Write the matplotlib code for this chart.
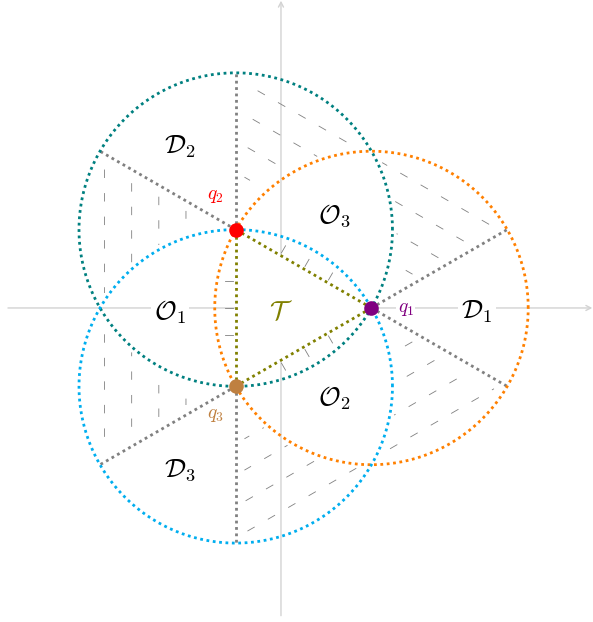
import matplotlib
matplotlib.use("Agg")
import matplotlib.pyplot as plt
import numpy as np

plt.rcParams["mathtext.fontset"] = "cm"
plt.rcParams["lines.scale_dashes"] = False

# triangle vertices q1, q2, q3 on the unit circle; each circle has radius = side
vertex_deg = [0, 120, 240]
vertex_names = ["$q_1$", "$q_2$", "$q_3$"]
vertex_colors = ["purple", "red", "#bf8040"]
circle_colors = ["#ff8000", "teal", "#00aeef"]
vertex_label_xy = [(1.38, -0.01), (-0.72, 1.24), (-0.72, -1.18)]

region_names = [r"$\mathcal{D}_1$", r"$\mathcal{D}_2$", r"$\mathcal{D}_3$",
                r"$\mathcal{O}_1$", r"$\mathcal{O}_2$", r"$\mathcal{O}_3$"]
region_xy = [(2.166, -0.044), (-1.116, 1.779), (-1.116, -1.79),
             (-1.227, -0.044), (0.586, -0.994), (0.586, 1.017)]
region_boxed = [True, False, False, True, False, False]

q = np.array([[np.cos(np.radians(a)), np.sin(np.radians(a))] for a in vertex_deg])
r = np.sqrt(3)

dotted = (0, (2.0, 2.6))
dot_lw = 2.0
gray = "#808080"
olive = "#808000"
axis_gray = "#d3d3d3"

fig = plt.figure(figsize=(5.93, 6.22), dpi=100)
ax = fig.add_axes([0, 0, 1, 1])
ax.set_xlim(-3.105, 3.448)
ax.set_ylim(-3.47, 3.403)
ax.axis("off")

# coordinate axes
arrow = dict(arrowstyle="->,head_length=0.35,head_width=0.18", color=axis_gray, lw=1.0,
             shrinkA=0, shrinkB=0)
ax.annotate("", xy=(3.44, 0), xytext=(-3.017, 0), arrowprops=arrow, zorder=1)
ax.annotate("", xy=(0, 3.395), xytext=(0, -3.40), arrowprops=arrow, zorder=1)

# white triangle covering the axes
ax.fill(q[:, 0], q[:, 1], color="white", zorder=2, lw=0)


def dist_in(x, y, c):
    return np.hypot(x - c[0], y - c[1])


def hatch(c_in, c_out, origin, ray_deg, side, hatch_deg,
          spacing=0.3, period=0.26, dash=0.085, margin=0.1):
    u = np.array([np.cos(np.radians(ray_deg)), np.sin(np.radians(ray_deg))])
    d = np.array([np.cos(np.radians(hatch_deg)), np.sin(np.radians(hatch_deg))])
    n = np.array([-d[1], d[0]])
    t = np.linspace(-4, 4, 6000)
    for k, off in enumerate(np.arange(-4.05, 4, spacing)):
        x = off * n[0] + t * d[0]
        y = off * n[1] + t * d[1]
        vx, vy = x - origin[0], y - origin[1]
        inside = ((dist_in(x, y, c_in) < r - margin)
                  & (dist_in(x, y, c_out) > r + margin * 0.5)
                  & (vx * u[0] + vy * u[1] > 0)
                  & (side * (u[0] * vy - u[1] * vx) > margin))
        mask = inside & (np.mod(t + 0.11 * k, period) < dash)
        if mask.sum() > 1:
            ax.plot(np.where(mask, x, np.nan), np.where(mask, y, np.nan),
                    color=gray, lw=0.6, zorder=3)


q1, q2, q3 = q
hatch(q2, q1, q2, 90, -1, -30)
hatch(q1, q2, q1, 30, 1, -30)
hatch(q2, q3, q2, 150, 1, 90)
hatch(q3, q2, q3, 210, -1, 90)
hatch(q3, q1, q3, 270, 1, 30)
hatch(q1, q3, q1, -30, -1, 30)

# short dashes inside the lenses next to each triangle edge
for i in range(3):
    a, b = q[(i + 1) % 3], q[(i + 2) % 3]
    m = (a + b) / 2
    e = (b - a) / np.linalg.norm(b - a)
    nout = m / np.linalg.norm(m)
    for s in (-0.3, 0.0, 0.3):
        p0 = m + s * e + 0.03 * nout
        p1 = m + s * e + 0.12 * nout
        ax.plot([p0[0], p1[0]], [p0[1], p1[1]], color=gray, lw=0.6, zorder=3)

# gray rays from each vertex to its circle
for i, a in enumerate(vertex_deg):
    for da in (-30, 30):
        ang = np.radians(a + da)
        ax.plot([q[i, 0], q[i, 0] + r * np.cos(ang)], [q[i, 1], q[i, 1] + r * np.sin(ang)],
                color=gray, lw=dot_lw, linestyle=dotted, zorder=4)

# circles
th = np.linspace(0, 2 * np.pi, 600)
for i in range(3):
    ax.plot(q[i, 0] + r * np.cos(th), q[i, 1] + r * np.sin(th),
            color=circle_colors[i], lw=dot_lw, linestyle=dotted, zorder=5)

# triangle edges
for i in range(3):
    a, b = q[i], q[(i + 1) % 3]
    ax.plot([a[0], b[0]], [a[1], b[1]], color=olive, lw=dot_lw, linestyle=dotted, zorder=6)

# vertices and their labels
for i in range(3):
    ax.plot(q[i, 0], q[i, 1], "o", ms=10.5, color=vertex_colors[i], mec="none", zorder=7)
    ax.text(*vertex_label_xy[i], vertex_names[i], color=vertex_colors[i], fontsize=14,
            ha="center", va="center", zorder=8,
            bbox=dict(fc="white", ec="none", pad=1) if i == 0 else None)

for name, (x, y), boxed in zip(region_names, region_xy, region_boxed):
    ax.text(x, y, name, fontsize=19, ha="center", va="center", zorder=8,
            bbox=dict(fc="white", ec="none", pad=2) if boxed else None)

ax.text(0, -0.044, r"$\mathcal{T}$", color=olive, fontsize=19, ha="center", va="center",
        zorder=8)

fig.savefig("out.png", dpi=100)
